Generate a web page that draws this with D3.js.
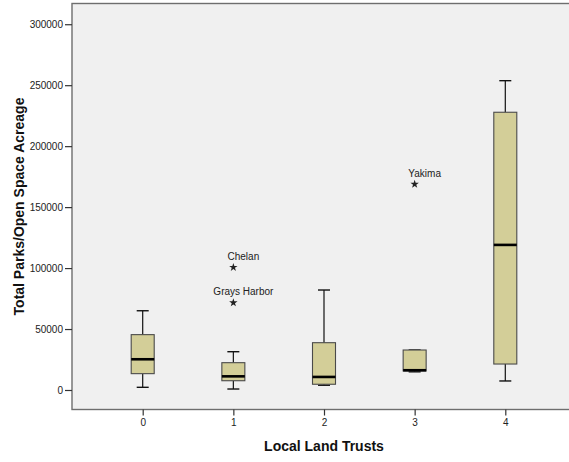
<!DOCTYPE html>
<html>
<head>
<meta charset="utf-8">
<script src="https://cdn.jsdelivr.net/npm/d3@7"></script>
<style>
  html, body { margin: 0; padding: 0; background: #ffffff; }
  svg { display: block; font-family: Arial, "Liberation Sans", sans-serif; }
</style>
</head>
<body>
<svg id="chart" width="569" height="462"></svg>
<script>
// Land trust groups on the x axis
const categories = ["0", "1", "2", "3", "4"];

// Five-number summaries of total parks / open space acreage per group
const whiskerLow  = [2200,  800,  3900, 14900,   7400];
const quartile1   = [13400, 7600, 4700, 15600,  21300];
const medians     = [25200, 11200, 10700, 16200, 119000];
const quartile3   = [45400, 22400, 38800, 32800, 227800];
const whiskerHigh = [65000, 31400, 82000, 32800, 253700];

// Extreme values, labelled by county
const outlierGroup = ["1", "1", "3"];
const outlierValue = [100600, 71600, 168800];
const outlierName  = ["Chelan", "Grays Harbor", "Yakima"];

// Y axis tick values
const yTicks = [0, 50000, 100000, 150000, 200000, 250000, 300000];

const svg = d3.select("#chart");

const plot = { left: 72, top: 3.5, right: 576, bottom: 409.5 };

const x = d3.scalePoint()
  .domain(categories)
  .range([142.7, 505.3]);

const y = d3.scaleLinear()
  .domain([-16000, 317000])
  .range([plot.bottom, plot.top]);

const boxWidth = 23;
const capWidth = 12;

// Plot background
svg.append("rect")
  .attr("x", plot.left)
  .attr("y", plot.top)
  .attr("width", plot.right - plot.left)
  .attr("height", plot.bottom - plot.top)
  .attr("fill", "#f0f0f0")
  .attr("stroke", "#6e6e6e")
  .attr("stroke-width", 1.4);

// Y axis
const yAxis = svg.append("g")
  .attr("transform", `translate(${plot.left},0)`)
  .call(d3.axisLeft(y).tickValues(yTicks).tickFormat(d3.format("d")).tickSize(7).tickPadding(2));
yAxis.select(".domain").remove();
yAxis.selectAll(".tick line").attr("stroke", "#333").attr("stroke-width", 1.2);
yAxis.selectAll(".tick text")
  .attr("fill", "#222")
  .style("font-size", "10px")
  .style("font-family", "Arial, 'Liberation Sans', sans-serif");

// X axis
const xAxis = svg.append("g")
  .attr("transform", `translate(0,${plot.bottom})`)
  .call(d3.axisBottom(x).tickSize(6).tickPadding(3));
xAxis.select(".domain").remove();
xAxis.selectAll(".tick line").attr("stroke", "#333").attr("stroke-width", 1.2);
xAxis.selectAll(".tick text")
  .attr("fill", "#222")
  .style("font-size", "10px")
  .style("font-family", "Arial, 'Liberation Sans', sans-serif");

// Box plots
const groups = categories.map((c, i) => ({
  cat: c,
  lo: whiskerLow[i], q1: quartile1[i], med: medians[i], q3: quartile3[i], hi: whiskerHigh[i]
}));

const g = svg.append("g").selectAll("g").data(groups).join("g")
  .attr("transform", d => `translate(${x(d.cat)},0)`);

// whiskers
g.append("line")
  .attr("x1", 0).attr("x2", 0)
  .attr("y1", d => y(d.hi)).attr("y2", d => y(d.q3))
  .attr("stroke", "#111").attr("stroke-width", 1.2);
g.append("line")
  .attr("x1", 0).attr("x2", 0)
  .attr("y1", d => y(d.q1)).attr("y2", d => y(d.lo))
  .attr("stroke", "#111").attr("stroke-width", 1.2);
g.append("line")
  .attr("x1", -capWidth / 2).attr("x2", capWidth / 2)
  .attr("y1", d => y(d.hi)).attr("y2", d => y(d.hi))
  .attr("stroke", "#111").attr("stroke-width", 1.4);
g.append("line")
  .attr("x1", -capWidth / 2).attr("x2", capWidth / 2)
  .attr("y1", d => y(d.lo)).attr("y2", d => y(d.lo))
  .attr("stroke", "#111").attr("stroke-width", 1.4);

// boxes
g.append("rect")
  .attr("x", -boxWidth / 2)
  .attr("width", boxWidth)
  .attr("y", d => y(d.q3))
  .attr("height", d => y(d.q1) - y(d.q3))
  .attr("fill", "#d3ce98")
  .attr("stroke", "#4a4a4a")
  .attr("stroke-width", 1.1);

// medians
g.append("line")
  .attr("x1", -boxWidth / 2).attr("x2", boxWidth / 2)
  .attr("y1", d => y(d.med)).attr("y2", d => y(d.med))
  .attr("stroke", "#000").attr("stroke-width", 2.6);

// Extreme points with labels
const outliers = outlierValue.map((v, i) => ({ cat: outlierGroup[i], value: v, name: outlierName[i] }));
const star = d3.symbol().type(d3.symbolStar).size(22);

const og = svg.append("g").selectAll("g").data(outliers).join("g")
  .attr("transform", d => `translate(${x(d.cat)},${y(d.value)})`);
og.append("path").attr("d", star).attr("fill", "#222");
og.append("text")
  .attr("x", 10)
  .attr("y", -7.5)
  .attr("text-anchor", "middle")
  .attr("fill", "#222")
  .style("font-size", "10px")
  .text(d => d.name);

// Axis titles
svg.append("text")
  .attr("x", (plot.left + plot.right) / 2)
  .attr("y", 451)
  .attr("text-anchor", "middle")
  .attr("font-weight", "bold")
  .attr("fill", "#111")
  .style("font-size", "14px")
  .text("Local Land Trusts");

svg.append("text")
  .attr("transform", `translate(24,${(plot.top + plot.bottom) / 2}) rotate(-90)`)
  .attr("text-anchor", "middle")
  .attr("font-weight", "bold")
  .attr("fill", "#111")
  .style("font-size", "14px")
  .text("Total Parks/Open Space Acreage");
</script>
</body>
</html>
